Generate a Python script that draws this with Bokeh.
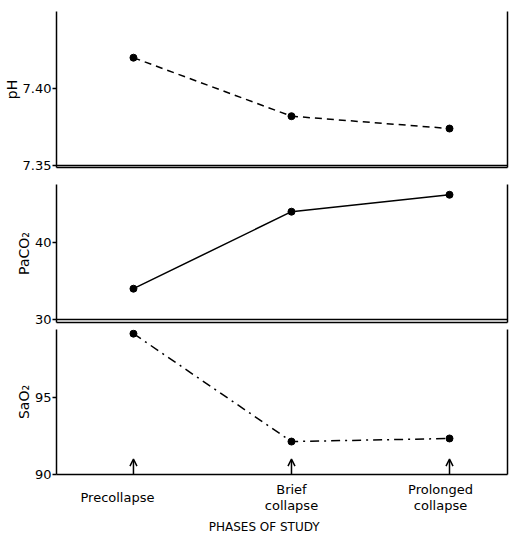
from bokeh.plotting import figure
from bokeh.models import Range1d, FixedTicker, LinearAxis, Span, Arrow, OpenHead, ColumnDataSource
from bokeh.core.properties import value
from bokeh.layouts import column
from bokeh.embed import file_html
from bokeh.resources import INLINE

# ---- data ----
phases = ["Precollapse", "Brief\ncollapse", "Prolonged\ncollapse"]
ph = [7.420, 7.382, 7.374]
paco2 = [34.0, 44.0, 46.2]
sao2 = [99.15, 92.14, 92.34]

ph_ticks = [7.35, 7.40]
ph_tick_labels = ["7.35", "7.40"]
paco2_ticks = [30, 40]
paco2_tick_labels = ["30", "40"]
sao2_ticks = [90, 95]
sao2_tick_labels = ["90", "95"]
x_title = "PHASES  OF  STUDY"

FONT = "DejaVu Sans"
LEFT = 54
RIGHT = 6
FRAME_W = 451
xs = list(range(len(phases)))
xr = Range1d(-0.487, 2.367)


def panel(y, ticks, tick_labels, ylabel, y_start, y_end, dash, frame_h, top, bottom):
    p = figure(frame_width=FRAME_W, frame_height=frame_h, x_range=xr,
               y_range=Range1d(y_start, y_end), output_backend="svg",
               toolbar_location=None, min_border_left=LEFT, min_border_right=RIGHT,
               min_border_top=top, min_border_bottom=bottom)
    p.outline_line_color = None
    p.xgrid.visible = False
    p.ygrid.visible = False

    ya = p.yaxis[0]
    ya.ticker = FixedTicker(ticks=ticks)
    ya.major_label_overrides = {t: l for t, l in zip(ticks, tick_labels)}
    ya.minor_tick_line_color = None
    ya.major_tick_in = 0
    ya.major_tick_out = 4
    ya.major_tick_line_width = 1.5
    ya.axis_line_width = 1.5
    ya.major_label_standoff = 1
    ya.major_label_text_font = FONT
    ya.major_label_text_font_size = "13px"
    ya.major_label_text_color = "black"
    ya.axis_label = ylabel
    ya.axis_label_text_font = FONT
    ya.axis_label_text_font_size = "14px"
    ya.axis_label_text_font_style = "normal"
    ya.axis_label_text_color = "black"
    ya.axis_label_standoff = 0

    xa = p.xaxis[0]
    xa.axis_line_width = 1.5
    xa.major_tick_line_color = None
    xa.minor_tick_line_color = None
    xa.major_tick_out = 0
    xa.major_tick_in = 0
    xa.ticker = FixedTicker(ticks=[])
    xa.major_label_text_font_size = "0px"
    xa.major_label_standoff = 0

    ra = LinearAxis(ticker=FixedTicker(ticks=[]), major_tick_line_color=None,
                    minor_tick_line_color=None, major_label_text_font_size="0px",
                    major_tick_out=0, major_tick_in=0,
                    major_label_standoff=0, axis_line_width=1.5)
    p.add_layout(ra, "right")

    p.line(xs, y, line_dash=dash, line_width=1.5, line_color="black")
    p.scatter(xs, y, size=7, color="black")
    return p


p1 = panel(ph, ph_ticks, ph_tick_labels, "pH", 7.3487, 7.45, "7 5", 156, 11, 8)
p1.add_layout(Span(location=ph_ticks[0], dimension="width", line_color="black", line_width=1.5))
p2 = panel(paco2, paco2_ticks, paco2_tick_labels, "PaCO\u2082", 29.61, 47.53, "solid", 138, 9, 4)
p2.add_layout(Span(location=paco2_ticks[0], dimension="width", line_color="black", line_width=1.5))
p3 = panel(sao2, sao2_ticks, sao2_tick_labels, "SaO\u2082", 90, 99.42, "9 5 2 5", 145, 3, 7)

arrow_len = 1.0
src = ColumnDataSource(dict(x_start=xs, x_end=xs,
                            y_start=[sao2_ticks[0]] * len(xs),
                            y_end=[sao2_ticks[0] + arrow_len] * len(xs)))
p3.add_layout(Arrow(end=OpenHead(size=7, line_width=1.5), source=src,
                    x_start="x_start", y_start="y_start", x_end="x_end", y_end="y_end",
                    line_width=1.5, line_color="black"))

# ---- strip below the last panel holding the phase labels and the axis title ----
STRIP_H = 56
strip = figure(frame_width=FRAME_W, frame_height=STRIP_H, x_range=xr,
               y_range=Range1d(-STRIP_H, 0), output_backend="svg", toolbar_location=None,
               min_border_left=LEFT, min_border_right=RIGHT, min_border_top=0,
               min_border_bottom=0)
strip.axis.visible = False
strip.grid.visible = False
strip.outline_line_color = None

label_dx = [-16, 0, -9]   # horizontal nudges of the phase labels (px)
strip.text(x=xs, y=[-16] * len(xs), text=phases, x_offset=label_dx,
           text_font=value(FONT), text_font_size="13px", text_color="black",
           text_align="center", text_baseline="middle", text_line_height=1.1)
strip.text(x=[(xr.start + xr.end) / 2], y=[-45], text=[x_title], x_offset=-14,
           text_font=value(FONT), text_font_size="12px", text_color="black",
           text_align="center", text_baseline="middle")

layout = column(p1, p2, p3, strip, spacing=0)
open("out.html", "w").write(file_html(layout, INLINE))
